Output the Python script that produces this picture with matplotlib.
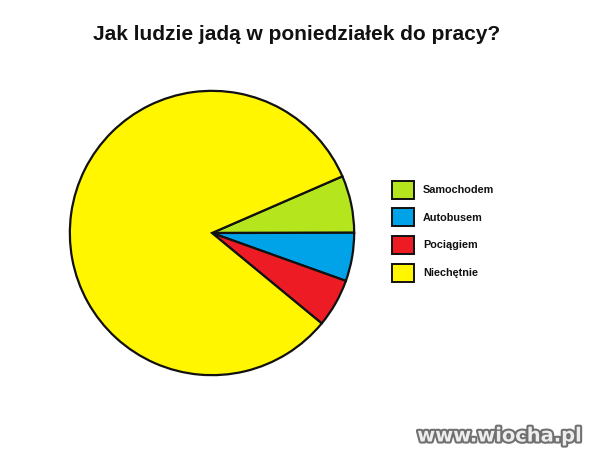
import matplotlib.pyplot as plt
import matplotlib.patheffects as pe
from matplotlib.patches import Rectangle

# dane wykresu
labels = ['Samochodem', 'Autobusem', 'Pociągiem', 'Niechętnie']
values = [6.5, 5.5, 5.5, 82.5]
colors = ['#b5e61d', '#00a2e8', '#ed1c24', '#fff600']
title = 'Jak ludzie jadą w poniedziałek do pracy?'

W, H = 599, 465
fig = plt.figure(figsize=(W / 100, H / 100), dpi=100)
fig.patch.set_facecolor('white')

narrow = ['Liberation Sans Narrow', 'Liberation Sans', 'DejaVu Sans']

# tytul
fig.text(297 / W, 1 - 34 / H, title, ha='center', va='center',
         fontsize=15, fontweight='bold', family=narrow, color='#111111')

# kolo
cx, cy, r = 212, 233, 145
ax = fig.add_axes([(cx - r) / W, (H - cy - r) / H, 2 * r / W, 2 * r / H])
ax.pie(values, colors=colors, startangle=23.5, counterclock=False,
       wedgeprops=dict(edgecolor='#111111', linewidth=1.6))
ax.set_xlim(-1.02, 1.02)
ax.set_ylim(-1.02, 1.02)
ax.axis('off')

# legenda
for i, (lab, col) in enumerate(zip(labels, colors)):
    top = 181 + i * 27.5
    fig.patches.append(Rectangle((392 / W, 1 - (top + 18) / H), 22 / W, 18 / H,
                                 transform=fig.transFigure, facecolor=col,
                                 edgecolor='#111111', linewidth=1.4))
    fig.text(423 / W, 1 - (top + 9) / H, lab, ha='left', va='center',
             fontsize=7.8, fontweight='bold', family=narrow, color='#111111')

# znak wodny
fig.text(582 / W, 1 - 436 / H, 'www.wiocha.pl', ha='right', va='center',
         fontsize=14, fontweight='bold', family=['DejaVu Sans'], color='#eeeeee',
         path_effects=[pe.withStroke(linewidth=3, foreground='#707070')])

fig.savefig('out.png', dpi=100)
